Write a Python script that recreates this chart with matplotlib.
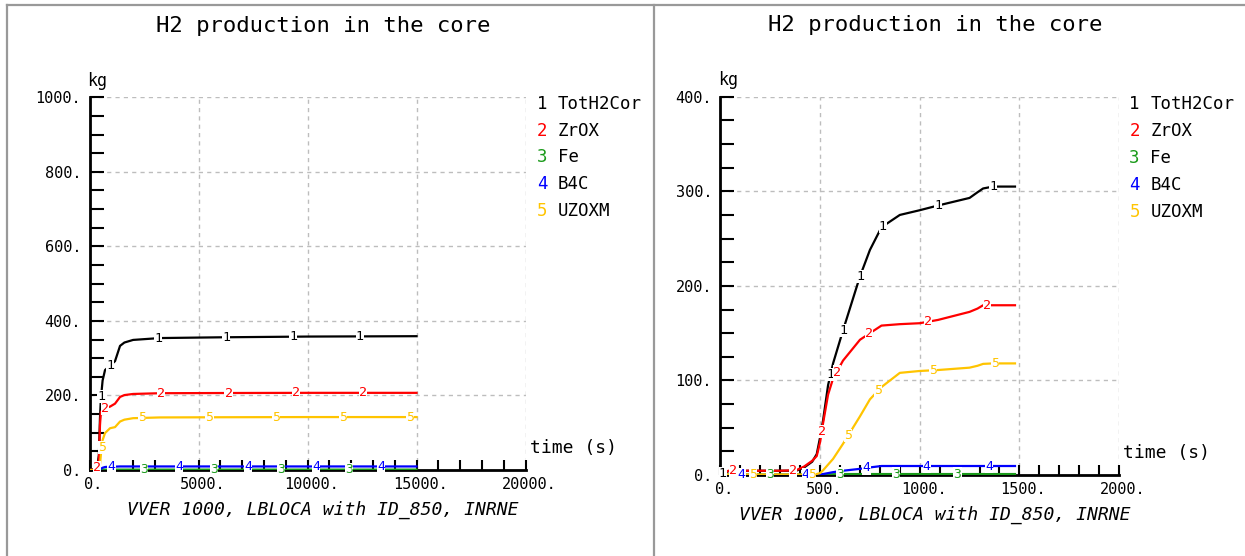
import matplotlib
matplotlib.use("Agg")
import matplotlib.pyplot as plt
import matplotlib.transforms as mtransforms
from matplotlib.lines import Line2D
from matplotlib.ticker import MultipleLocator, FuncFormatter
import numpy as np

# ---- data (kg vs time, s) ----
names = ["TotH2Cor", "ZrOX", "Fe", "B4C", "UZOXM"]
numbers = ["1", "2", "3", "4", "5"]
colors = ["#000000", "#ff0000", "#1a9a1a", "#0000ff", "#ffc400"]

# long transient, 0-15000 s
t_long = [0, 200, 350, 430, 480, 520, 600, 711, 940, 1170, 1400, 1600, 2000,
          3230, 6000, 10000, 15000]
tot_long = [0, 2, 8, 40, 140, 190, 240, 268, 280, 292, 333, 342, 349, 354, 356, 358, 359]
zr_long = [0, 2, 8, 30, 120, 155, 163, 166, 170, 178, 196, 201, 204, 206, 206.5, 207, 207]
fe_long = [0, 0, 0, 0, 0.3, 0.5, 0.8, 1, 1, 1, 1, 1, 1, 1, 1, 1, 1]
b4c_long = [0, 0, 0, 0, 1, 3, 6, 8, 9, 9, 9.5, 9.5, 9.5, 9.5, 9.5, 9.5, 9.5]
uzo_long = [0, 0, 1, 4, 15, 40, 80, 99, 112, 115, 130, 135, 139, 141, 141.5, 142, 142]

# short transient, 0-1478 s
t_short = [0, 40, 150, 300, 380, 420, 460, 483, 500, 515, 540, 565, 615, 700, 750,
           808, 900, 1000, 1092, 1250, 1290, 1318, 1368, 1478]
tot_short = [0, 4, 4.5, 4.5, 4.5, 8, 14, 22, 40, 58, 95, 118, 153, 210, 238, 262,
             275, 280, 285, 293, 299, 303, 305, 305]
zr_short = [0, 4.5, 4.5, 4.5, 5, 9, 15, 20, 35, 55, 85, 102, 121, 143, 150, 158,
            159.5, 160.5, 164, 172.5, 176, 179.5, 179.5, 179.5]
fe_short = [0, 0.5, 0.5, 0.5, 0.5, 0.5, 0.5, 0.5, 0.5, 0.5, 0.7, 0.8, 1, 1, 1, 1,
            1, 1, 1, 1, 1, 1, 1, 1]
b4c_short = [0, 0, 0, 0, 0, 0, 0, 0, 0.5, 1, 2, 3, 4.5, 6.5, 8, 9.5, 9.5, 9.5, 9.5,
             9.5, 9.5, 9.5, 9.5, 9.5]
uzo_short = [0, 0.5, 0.5, 0.5, 0.5, 0.5, 0.5, 1, 2, 5, 11, 17, 33, 62, 80, 93, 108,
             110, 111, 113.5, 115.5, 117.5, 118, 118]

# times where the curve number is written on the line
marks_long = [
    [530, 945, 3140, 6260, 9330, 12400],
    [330, 715, 3290, 6380, 9470, 12540],
    [2500, 5700, 8800, 11900],
    [1010, 4100, 7270, 10390, 13370],
    [560, 2400, 5500, 8540, 11630, 14710],
]
marks_short = [
    [12, 552, 615, 700, 814, 1093, 1369],
    [62, 364, 508, 583, 745, 1041, 1336],
    [250, 600, 880, 1190],
    [105, 428, 733, 1035, 1347],
    [165, 458, 640, 790, 1066, 1377],
]

title = "H2 production in the core"
caption = "VVER 1000, LBLOCA with ID_850, INRNE"
MONO = "DejaVu Sans Mono"

fig = plt.figure(figsize=(12.45, 5.56), dpi=100)


def draw_panel(rect, t, series, marks, xmax, xmaj, xmin, ymax, ymaj, ymin):
    ax = fig.add_axes(rect)
    for vals, col, num, tm in zip(series, colors, numbers, marks):
        ax.plot(t, vals, color=col, lw=1.6, zorder=3, solid_joinstyle="round")
        for tt in tm:
            ax.text(tt, np.interp(tt, t, vals), num, color=col, fontsize=9.5,
                    family=MONO, ha="center", va="center", zorder=4,
                    bbox=dict(facecolor="white", edgecolor="none", pad=0.1))
    ax.set_xlim(0, xmax)
    ax.set_ylim(0, ymax)
    ax.xaxis.set_major_locator(MultipleLocator(xmaj))
    ax.xaxis.set_minor_locator(MultipleLocator(xmin))
    ax.yaxis.set_major_locator(MultipleLocator(ymaj))
    ax.yaxis.set_minor_locator(MultipleLocator(ymin))
    fmt = FuncFormatter(lambda v, p: f"{v:.0f}.")
    ax.xaxis.set_major_formatter(fmt)
    ax.yaxis.set_major_formatter(fmt)
    ax.tick_params(axis="y", which="both", direction="in", length=10, width=1.5,
                   pad=6, labelsize=11)
    ax.tick_params(axis="x", which="both", direction="in", length=7, width=1.5,
                   pad=5, labelsize=11)
    for lab in ax.get_xticklabels() + ax.get_yticklabels():
        lab.set_family(MONO)
    shift = mtransforms.ScaledTranslation(4 / 100, 0, fig.dpi_scale_trans)
    for lab in ax.get_xticklabels():
        lab.set_transform(lab.get_transform() + shift)
    for s in ["top", "right"]:
        ax.spines[s].set_visible(False)
    for s in ["left", "bottom"]:
        ax.spines[s].set_linewidth(2)
    ax.grid(True, which="major", color="#bdbdbd", lw=1, linestyle=(0, (3, 3)))
    ax.set_axisbelow(True)

    ax.text(-0.005, 1.02, "kg", transform=ax.transAxes, fontsize=12,
            family=MONO, ha="left", va="bottom")
    ax.text(1.01, 0.035, "time (s)", transform=ax.transAxes, fontsize=13,
            family=MONO, ha="left", va="bottom")
    for i, (num, nm, col) in enumerate(zip(numbers, names, colors)):
        y = 0.982 - i * 0.0716
        ax.text(1.026, y, num, transform=ax.transAxes, color=col, fontsize=12.5,
                family=MONO, ha="left", va="center")
        tr = mtransforms.offset_copy(ax.transAxes, fig=fig, x=21, y=0, units="dots")
        ax.text(1.026, y, nm, transform=tr, color="black", fontsize=12.5,
                family=MONO, ha="left", va="center")
    return ax


draw_panel([0.0719, 0.1547, 0.3502, 0.6703], t_long,
           [tot_long, zr_long, fe_long, b4c_long, uzo_long], marks_long,
           20000, 5000, 1000, 1000, 200, 50)
draw_panel([0.5787, 0.1457, 0.3201, 0.6803], t_short,
           [tot_short, zr_short, fe_short, b4c_short, uzo_short], marks_short,
           2000, 500, 100, 400, 100, 25)

# titles and captions
fig.text(323 / 1245, 1 - 26 / 556, title, family=MONO, fontsize=16,
         ha="center", va="center")
fig.text(935 / 1245, 1 - 25 / 556, title, family=MONO, fontsize=16,
         ha="center", va="center")
fig.text(323 / 1245, 1 - 510 / 556, caption, family=MONO, style="italic",
         fontsize=13, ha="center", va="center")
fig.text(935 / 1245, 1 - 515 / 556, caption, family=MONO, style="italic",
         fontsize=13, ha="center", va="center")

# panel frames
frame = dict(color="#999999", lw=1.6, transform=fig.transFigure)
fig.add_artist(Line2D([7 / 1245, 1], [1 - 5 / 556] * 2, **frame))
fig.add_artist(Line2D([7 / 1245] * 2, [0, 1 - 5 / 556], **frame))
fig.add_artist(Line2D([654 / 1245] * 2, [0, 1 - 5 / 556], **frame))

fig.savefig("out.png", dpi=100)
